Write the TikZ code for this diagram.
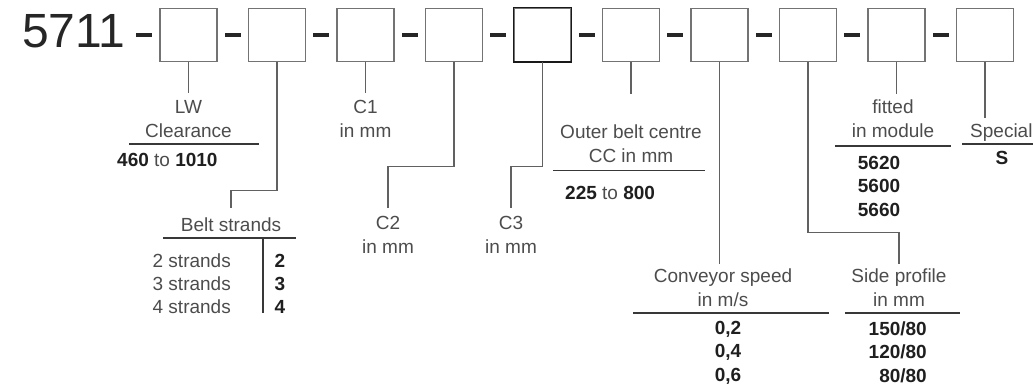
\documentclass[tikz,border=0pt]{standalone}
\usepackage{fontspec}
\setmainfont{Liberation Sans}
\newcommand\vnum[1]{\textbf{\textcolor{black!88}{#1}}}
\begin{document}
\begin{tikzpicture}[x=1pt,y=-1pt,
    every node/.style={inner sep=0pt,text=black!70,font=\fontsize{19}{24}\selectfont},
    val/.style={text=black!88,font=\fontsize{19}{24}\selectfont\bfseries},
    slot/.style={draw=black!55,line width=1.2pt,minimum width=57pt,minimum height=53pt},
    lead/.style={draw=black!62,line width=1.1pt},
    rule/.style={draw=black!78,line width=1.1pt}]
\useasboundingbox (0,0) rectangle (1033,390);
% code line
\node[anchor=base west,font=\fontsize{48}{48}\selectfont,text=black!85] (code) at (22,48) {5711};
\foreach \i in {1,...,10}
{
    \node[slot] (b\i) at ({188.5+88.5*(\i-1)},35) {};
}
\draw[black!90,line width=1.2pt] (b5.south west) rectangle (b5.north east);
\foreach \i in {0,...,9}
{
    \fill[black!85] ({136+88.5*\i},33) rectangle +(16,4);
}
% LW clearance
\node[align=center,anchor=base] (lw) at (188.5,138) {LW\\Clearance};
\draw[lead] (b1.south) -- ([yshift=8pt]b1.south |- lw.north);
\draw[rule] (129,144) -- (259,144);
\node[anchor=base west] (lwval) at (117,167) {\vnum{460} to \vnum{1010}};
% belt strands
\node[anchor=base] (belt) at (231,231.7) {Belt strands};
\draw[lead] (b2.south) -- ++(0,128.5) -| ([yshift=10pt]belt.north);
\draw[rule] (163,238) -- (296,238);
\draw[rule] (263,238) -- (263,313);
\foreach \n/\y in {2/267,3/290,4/313}
{
    \node[anchor=base east] at (231,\y) {\n{} strands};
    \node[val,anchor=base] at (280,\y) {\n};
}
% C1, C2, C3
\node[align=center,anchor=base] (c1) at (365.5,138) {C1\\in mm};
\draw[lead] (b3.south) -- ([yshift=8pt]c1.north);
\node[align=center,anchor=base] (c2) at (388,253.5) {C2\\in mm};
\draw[lead] (b4.south) -- ++(0,104.5) -| ([yshift=8pt]c2.north);
\node[align=center,anchor=base] (c3) at (511,253.5) {C3\\in mm};
\draw[lead] (b5.south) -- ++(0,104.5) -| ([yshift=8pt]c3.north);
% outer belt centre
\node[align=center,anchor=base] (cc) at (631,162.5) {Outer belt centre\\CC in mm};
\draw[lead] (b6.south) -- ([yshift=31pt]b6.south |- cc.north);
\draw[rule] (553,170.7) -- (705,170.7);
\node[anchor=base west] (ccval) at (565,200) {\vnum{225} to \vnum{800}};
% conveyor speed
\node[align=center,anchor=base] (speed) at (723,306.5) {Conveyor speed\\in m/s};
\draw[lead] (b7.south) -- ([yshift=5pt]b7.south |- speed.north);
\draw[rule] (633,313) -- (829,313);
\foreach \v/\y in {2/334,4/357,6/381}
{
    \node[val,anchor=base] at (728,\y) {0,\v};
}
% side profile
\node[align=center,anchor=base] (side) at (899,306.5) {Side profile\\in mm};
\draw[lead] (b8.south) -- ++(0,170.5) -| ([yshift=5pt]side.north);
\draw[rule] (845,313) -- (960,313);
\foreach \v/\y in {150/335,120/358,80/382}
{
    \node[val,anchor=base east] at (927,\y) {\v/80};
}
% module
\node[align=center,anchor=base] (mod) at (893,138) {fitted\\in module};
\draw[lead] (b9.south) -- ([yshift=6pt]b9.south |- mod.north);
\draw[rule] (835,146) -- (951,146);
\foreach \v/\y in {5620/170,5600/193,5660/217}
{
    \node[val,anchor=base] at (879,\y) {\v};
}
% special
\node[anchor=base west] (spec) at (970,138) {Special};
\draw[lead] (b10.south) -- ([yshift=6pt]b10.south |- spec.north);
\draw[rule] (962,144) -- (1040,144);
\node[val,anchor=base] at (1002,165) {S};
\end{tikzpicture}
\end{document}
